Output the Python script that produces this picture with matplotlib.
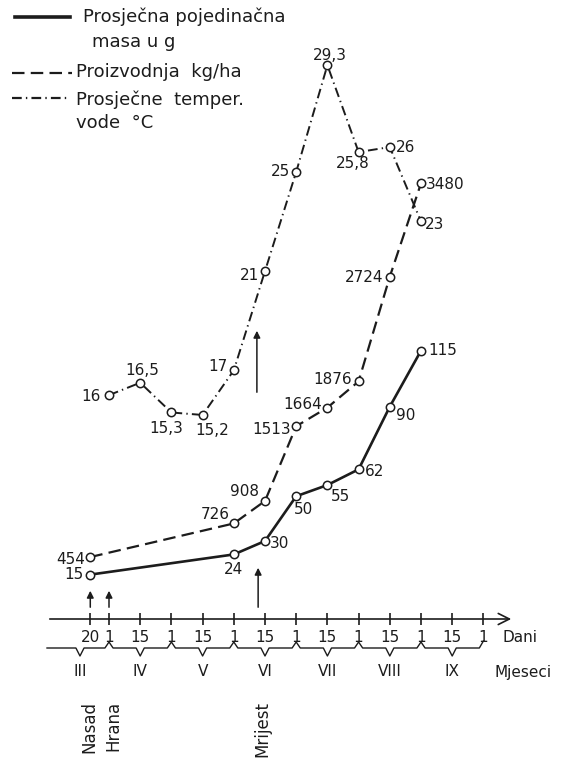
import matplotlib
matplotlib.use("Agg")
import matplotlib.pyplot as plt

plt.rcParams['font.family'] = ['DejaVu Sans']
plt.rcParams['lines.scale_dashes'] = False

# os x: dani u mjesecu i mjeseci
dani = ["20", "1", "15", "1", "15", "1", "15", "1", "15", "1", "15", "1", "15", "1"]
mjeseci = ["III", "IV", "V", "VI", "VII", "VIII", "IX"]

# serije (indeks = mjesto u listi dani)
masa_i = [0, 5, 6, 7, 8, 9, 10, 11]
masa = [15, 24, 30, 50, 55, 62, 90, 115]

prod_i = [0, 5, 6, 7, 8, 9, 10, 11]
prod = [454, 726, 908, 1513, 1664, 1876, 2724, 3480]

temp_i = [1, 2, 3, 4, 5, 6, 7, 8, 9, 10, 11]
temp = [16, 16.5, 15.3, 15.2, 17, 21, 25, 29.3, 25.8, 26, 23]
temp_txt = ["16", "16,5", "15,3", "15,2", "17", "21", "25", "29,3", "25,8", "26", "23"]

# raspored (pola mjeseca = 1 jedinica)
dani_x = [-0.6, 0, 1, 2, 3, 4, 5, 6, 7, 8, 9, 10, 11, 12]
mjeseci_x = [-0.93, 1, 3, 5, 7, 9, 11]
granice = [0, 2, 4, 6, 8, 10]


def px(x):
    return (x - 109) / 31.2


fig = plt.figure(figsize=(5.73, 7.58), dpi=100)
ax = fig.add_axes([0, 0, 1, 1])
ax.set_xlim(px(0), px(573))
ax.set_ylim(758, 0)
ax.axis('off')

ax_m = ax.twinx()
ax_m.set_ylim(-66.9, 271.6)
ax_p = ax.twinx()
ax_p.set_ylim(-1173, 4964)
ax_t = ax.twinx()
ax_t.set_ylim(1.37, 31.93)
for a in (ax_m, ax_p, ax_t):
    a.axis('off')

k = '#1c1c1c'
mk = dict(marker='o', ms=6, mfc='white', mec=k, mew=1.1)
fs = 11

# masa
xm = [dani_x[i] for i in masa_i]
ax_m.plot(xm, masa, color=k, lw=1.9, **mk)
off_m = [(-7, 0, 'right'), (0, -15, 'center'), (5, -2, 'left'), (7, -13, 'center'),
         (13, -11, 'center'), (6, -2, 'left'), (16, -9, 'center'), (7, 0, 'left')]
for x, v, (dx, dy, h) in zip(xm, masa, off_m):
    ax_m.annotate(str(v), (x, v), xytext=(dx, dy), textcoords='offset pixels',
                  ha=h, va='center', fontsize=fs, color=k)

# proizvodnja
xp = [dani_x[i] for i in prod_i]
ax_p.plot(xp, prod, color=k, lw=1.6, dashes=(9, 4.5), **mk)
off_p = [(-5, -2, 'right'), (-4, 9, 'right'), (-6, 9, 'right'), (-5, -3, 'right'),
         (-5, 3, 'right'), (-7, 2, 'right'), (-6, -1, 'right'), (5, -1, 'left')]
for x, v, (dx, dy, h) in zip(xp, prod, off_p):
    ax_p.annotate(str(v), (x, v), xytext=(dx, dy), textcoords='offset pixels',
                  ha=h, va='center', fontsize=fs, color=k)

# temperatura
xt = [dani_x[i] for i in temp_i]
ax_t.plot(xt, temp, color=k, lw=1.4, dashes=(7, 3, 1, 3), **mk)
off_t = [(-8, -1, 'right'), (2, 12, 'center'), (-5, -16, 'center'), (10, -16, 'center'),
         (-6, 4, 'right'), (-6, -4, 'right'), (-6, 0, 'right'), (2, 10, 'center'),
         (-6, -11, 'center'), (6, 0, 'left'), (4, -3, 'left')]
for x, v, t, (dx, dy, h) in zip(xt, temp, temp_txt, off_t):
    ax_t.annotate(t, (x, v), xytext=(dx, dy), textcoords='offset pixels',
                  ha=h, va='center', fontsize=fs, color=k)

# os x
ax.annotate("", xy=(px(514), 619), xytext=(px(47), 619),
            arrowprops=dict(arrowstyle='->', lw=1.2, color=k, mutation_scale=20))
ax.plot(dani_x, [619] * len(dani_x), ls='none', marker='|', ms=9, mew=1.2, color=k)
for x, t in zip(dani_x, dani):
    ax.text(x, 638, t, ha='center', va='center', fontsize=fs, color=k)
ax.text(px(502), 638, "Dani", ha='left', va='center', fontsize=fs, color=k)

# zagrade mjeseci
d = 0.13
bx = [px(47)]
by = [648]
for j, c in enumerate(mjeseci_x):
    bx += [c - d, c, c + d]
    by += [648, 656, 648]
    if j < len(granice):
        b = granice[j]
        bx += [b - d, b, b + d]
        by += [648, 642, 648]
bx += [12 - d, 12]
by += [648, 641]
ax.plot(bx, by, color=k, lw=1.0)
for x, t in zip(mjeseci_x, mjeseci):
    ax.text(x, 672, t, ha='center', va='center', fontsize=fs, color=k)
ax.text(px(495), 672, "Mjeseci", ha='left', va='center', fontsize=fs, color=k)

# strelice
arr = dict(arrowstyle='-|>', lw=1.1, color=k, mutation_scale=10)
for x, y0, y1 in [(-0.6, 610, 588), (0, 610, 588), (4.78, 610, 565), (4.74, 395, 328)]:
    ax.annotate("", xy=(x, y1), xytext=(x, y0), arrowprops=arr)
for x, t in [(-0.64, "Nasad"), (0.13, "Hrana"), (4.9, "Mrijest")]:
    ax.text(x, 701, t, rotation=90, ha='center', va='top', fontsize=12, color=k)

# legenda
lf = 13
ax.plot([px(15), px(70)], [17, 17], color=k, lw=2.6)
ax.text(px(83), 17, "Prosječna pojedinačna", va='center', fontsize=lf, color=k)
ax.text(px(92), 42, "masa u g", va='center', fontsize=lf, color=k)
ax.plot([px(12), px(72)], [73, 73], color=k, lw=1.6, dashes=(9, 4.5))
ax.text(px(76), 72, "Proizvodnja  kg/ha", va='center', fontsize=lf, color=k)
ax.plot([px(12), px(70)], [98, 98], color=k, lw=1.6, dashes=(7, 3, 1, 3))
ax.text(px(76), 100, "Prosječne  temper.", va='center', fontsize=lf, color=k)
ax.text(px(76), 123, "vode  °C", va='center', fontsize=lf, color=k)

fig.savefig("out.png", dpi=100, facecolor='white')
